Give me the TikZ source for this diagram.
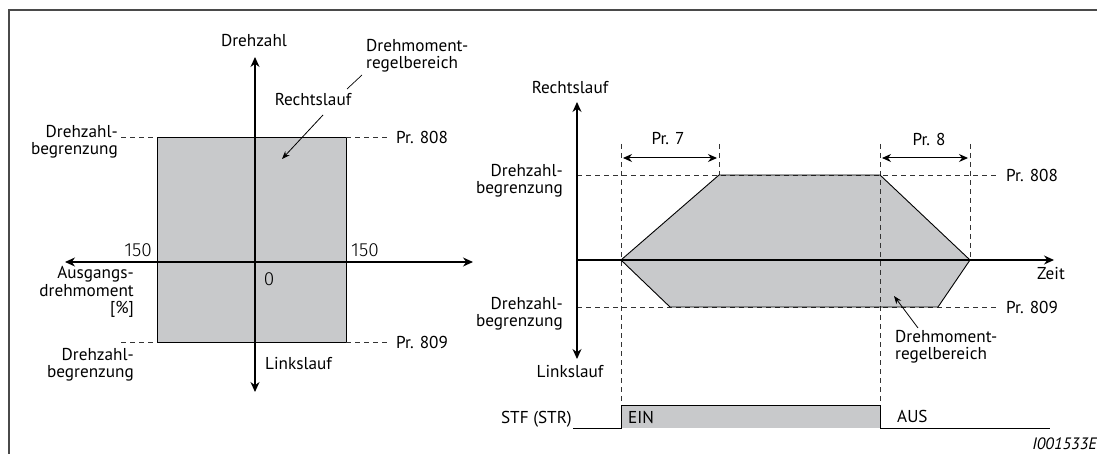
\documentclass[tikz,border=0pt]{standalone}
\usepackage{fontspec}
\setmainfont{PT Sans}
\newfontfamily\lightfont{Fira Sans Light}
\usetikzlibrary{arrows.meta,positioning}
\definecolor{area}{HTML}{C8C9CB}
\definecolor{frame}{HTML}{4A4A4A}

\begin{document}
\begin{tikzpicture}[x=1pt, y=-1pt,
  lbl/.style={inner sep=0pt, font=\fontsize{17.2}{17.2}\selectfont},
  num/.style={inner sep=0pt, font=\fontsize{19}{18}\lightfont},
  ax/.style={line width=1.1pt, {Stealth[length=10pt, width=9pt]}-{Stealth[length=10pt, width=9pt]}},
  axr/.style={line width=1.1pt, -{Stealth[length=10pt, width=9pt]}},
  dsh/.style={line width=0.8pt, dash pattern=on 5pt off 4pt, black!80},
  arr/.style={line width=0.8pt, -{Stealth[length=8pt, width=6pt]}},
  dim/.style={line width=1pt, {Stealth[length=9pt, width=8pt]}-{Stealth[length=9pt, width=8pt]}},
  edge/.style={line width=0.9pt}
]
  \useasboundingbox (0,0) rectangle (1097,454);
  \draw[frame, line width=1.6pt] (1097,10) -- (9,10) -- (9,454);

  % left diagram: torque / speed
  \coordinate (lt) at (255,57);
  \coordinate (lb) at (255,392);
  \coordinate (ll) at (65,262);
  \coordinate (lr) at (473,262);
  \coordinate (rtl) at (157,137);
  \coordinate (rbr) at (346,342);

  \fill[area] (rtl) rectangle (rbr);
  \draw[edge] (rtl) rectangle (rbr);
  \draw[dsh] (121,137) -- (rtl);
  \draw[dsh] (rtl -| rbr) -- (387,137);
  \draw[dsh] (121,342) -- (rtl |- rbr);
  \draw[dsh] (rbr) -- (387,342);
  \draw[ax] (lb) -- (lt);
  \draw[ax] (ll) -- (lr);

  \node[lbl] (lspeed) at (254,41) {Drehzahl};
  \node[lbl, anchor=west, align=left] (lzone) at (366,56) {Drehmoment-\\regelbereich};
  \node[lbl] (lfwd) at (313,100) {Rechtslauf};
  \coordinate (lzonetip) at (347,89);
  \draw[line width=0.7pt] (362,75) -- (lzonetip);
  \coordinate (lfwdtip) at (282,159);
  \draw[arr] (323,115) -- (lfwdtip);
  \node[lbl, anchor=east, align=right] (llimtop) at (118,142) {Drehzahl-\\begrenzung};
  \node[lbl, anchor=east, align=right] (llimbot) at (134,365) {Drehzahl-\\begrenzung};
  \node[lbl, anchor=west] (lp808) at (396,137) {Pr. 808};
  \node[lbl, anchor=west] (lp809) at (396,342) {Pr. 809};
  \node[num, anchor=east] (lneg) at (152,250) {150};
  \node[num, anchor=west] (lpos) at (351,250) {150};
  \node[num] (lzero) at (269,279) {0};
  \node[lbl, anchor=east, align=right] (ltorque) at (134,292) {Ausgangs-\\drehmoment\\{}[\%]};
  \node[lbl, anchor=west] (lrev) at (265,364) {Linkslauf};

  % right diagram: speed / time
  \coordinate (rt) at (577,102);
  \coordinate (rb) at (577,359);
  \coordinate (ro) at (577,260);
  \coordinate (rend) at (1054,260);
  \coordinate (ta) at (621,260);
  \coordinate (tb) at (719,175);
  \coordinate (tc) at (880,175);
  \coordinate (td) at (970,260);
  \coordinate (te) at (938,307);
  \coordinate (tf) at (670,307);

  \fill[area] (ta) -- (tb) -- (tc) -- (td) -- (te) -- (tf) -- cycle;
  \fill[area] (621,405) rectangle (880,428);
  \draw[dsh] (621,144) -- (621,405);
  \draw[dsh] (719,144) -- (tb);
  \draw[dsh] (880,144) -- (880,405);
  \draw[dsh] (970,144) -- (td);
  \draw[dsh] (ro |- tb) -- (997,175);
  \draw[dsh] (ro |- tf) -- (997,307);
  \draw[edge] (ta) -- (tb) -- (tc) -- (td) -- (te) -- (tf) -- cycle;
  \draw[ax] (rb) -- (rt);
  \draw[axr] (ro) -- (rend);
  \draw[dim] (623,158) -- (717,158);
  \draw[dim] (882,158) -- (968,158);
  \draw[edge] (573,428) -- (621,428) -- (621,405) -- (880,405) -- (880,428) -- (1050,428);

  \node[lbl] (rfwd) at (570,88) {Rechtslauf};
  \node[lbl] (rrev) at (570,372) {Linkslauf};
  \node[lbl] (rtime) at (1051,274) {Zeit};
  \node[lbl] (rp7) at (668,139) {Pr. 7};
  \node[lbl] (rp8) at (929,139) {Pr. 8};
  \node[lbl, anchor=west] (rp808) at (1006,175) {Pr. 808};
  \node[lbl, anchor=west] (rp809) at (1006,307) {Pr. 809};
  \node[lbl, anchor=east, align=right] (rlimtop) at (563,181) {Drehzahl-\\begrenzung};
  \node[lbl, anchor=east, align=right] (rlimbot) at (563,314) {Drehzahl-\\begrenzung};
  \node[lbl, anchor=west, align=left] (rzone) at (895,347) {Drehmoment-\\regelbereich};
  \coordinate (rzonetip) at (894,296);
  \draw[arr] (918,328) -- (rzonetip);
  \node[lbl, anchor=east] (rstf) at (572,419) {STF (STR)};
  \node[lbl, anchor=west] (ron) at (628,417) {EIN};
  \node[lbl, anchor=west] (roff) at (897,416) {AUS};
  \node[lbl, anchor=east, font=\fontsize{16.5}{15}\selectfont\itshape] (rcode) at (1097,444) {I001533E};
\end{tikzpicture}
\end{document}
